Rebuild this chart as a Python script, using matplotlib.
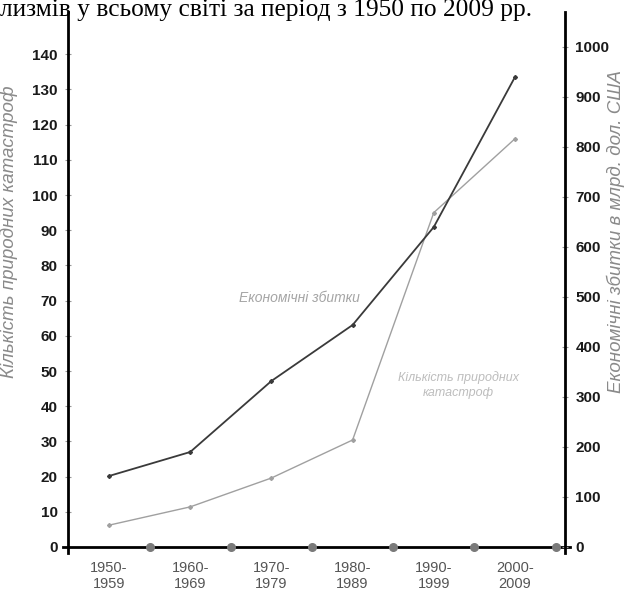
import matplotlib
matplotlib.use("Agg")
import matplotlib.pyplot as plt
import numpy as np

categories = ["1950-\n1959", "1960-\n1969", "1970-\n1979", "1980-\n1989", "1990-\n1999", "2000-\n2009"]
disasters = [6.2, 11.4, 19.6, 30.4, 95, 116]        # left axis, light line
losses = [142, 190, 332, 444, 640, 940]             # right axis, dark line
left_ticks = list(range(0, 141, 10))
right_ticks = list(range(0, 1001, 100))

plt.rcParams['font.family'] = ['Liberation Sans', 'DejaVu Sans']

fig = plt.figure(figsize=(6.30, 5.99), dpi=100)
ax = fig.add_axes([68/630, (599-547)/599, (565-68)/630, (547-12)/599])
ax2 = ax.twinx()

x = np.arange(len(categories))
ax.set_xlim(-0.505, 5.616)
ax.set_ylim(0, 152)
ax2.set_ylim(0, 1070)

ax.plot(x, disasters, color='#a0a0a0', lw=1.0, marker='D', ms=2, zorder=3)
ax2.plot(x, losses, color='#3a3a3a', lw=1.3, marker='D', ms=2, zorder=3)

for a in (ax, ax2):
    for s in a.spines.values():
        s.set_visible(False)

ax.spines['left'].set_visible(True)
ax.spines['left'].set_linewidth(2)
ax2.spines['right'].set_visible(True)
ax2.spines['right'].set_linewidth(2)
ax.plot([-0.57, 5.68], [0, 0], color='black', lw=2, clip_on=False, zorder=4)
ax.plot([-0.505, -0.505], [-1.6, 0], color='black', lw=2, clip_on=False, zorder=4)
ax.plot([5.616, 5.616], [-1.6, 0], color='black', lw=2, clip_on=False, zorder=4)
ax.scatter(np.arange(0.5, 6, 1.0), [0]*6, s=30, color='#7a7a7a', zorder=5, clip_on=False)

ax.set_yticks(left_ticks)
ax.set_yticklabels([str(t) for t in left_ticks], fontsize=11, fontweight='bold', color='#1a1a1a')
ax2.set_yticks(right_ticks)
ax2.set_yticklabels([str(t) for t in right_ticks], fontsize=11, fontweight='bold', color='#1a1a1a')
ax.tick_params(axis='y', direction='inout', length=5, width=0.8, color='#999999', pad=5)
ax2.tick_params(axis='y', direction='inout', length=5, width=0.8, color='#999999', pad=5)

ax.set_xticks(x)
ax.set_xticklabels(categories, fontsize=10.5, color='#555555', linespacing=1.15)
ax.tick_params(axis='x', length=0, pad=10)

ax.set_ylabel('Кількість природних катастроф', fontsize=13.5, style='italic', color='#8a8a8a')
ax2.set_ylabel('Економічні збитки в млрд. дол. США', fontsize=13.5, style='italic', color='#8a8a8a')
ax.yaxis.set_label_coords(-0.1, 0.589)
ax2.yaxis.set_label_coords(1.083, 0.59)

ax.text(2.35, 70.7, 'Економічні збитки', fontsize=10, style='italic', color='#a5a5a5', ha='center', va='center')
ax.text(4.3, 46, 'Кількість природних\nкатастроф', fontsize=9, style='italic', color='#bdbdbd', ha='center', va='center', linespacing=1.3)

fig.text(0.0, 1 - 16/599, 'лизмів у всьому світі за період з 1950 по 2009 рр.', fontsize=18.3,
         family=['Liberation Serif', 'DejaVu Serif'], ha='left', va='baseline')

fig.savefig('out.png', dpi=100, facecolor='white')
